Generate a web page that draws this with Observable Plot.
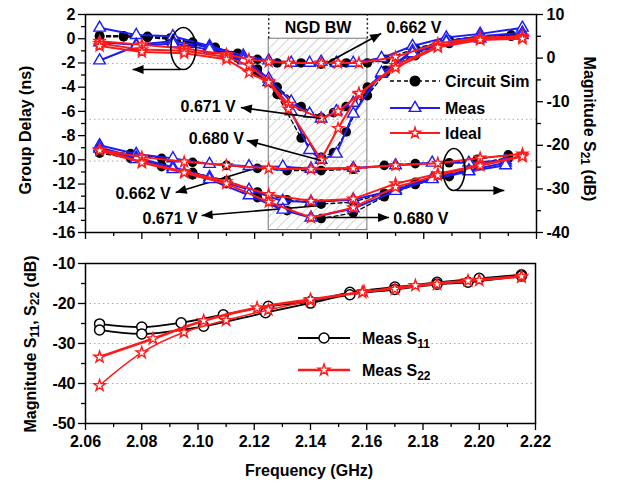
<!DOCTYPE html>
<html><head><meta charset="utf-8">
<script src="https://cdn.jsdelivr.net/npm/d3@7"></script>
<script src="https://cdn.jsdelivr.net/npm/@observablehq/plot@0.6"></script>
<style>
body{margin:0;background:#fff;}
#wrap{position:relative;width:622px;height:485px;overflow:hidden;}
#wrap svg{position:absolute;left:0;}
</style></head>
<body><div id="wrap"></div>
<script>
// ---------- DATA (top panel: group delay, ns) ----------
const fSimGD   = [2.065,2.0735,2.082,2.09,2.098,2.106,2.114,2.121,2.128,2.1365,2.1436,2.148,2.1525,2.16,2.1665,2.177,2.189,2.2,2.211];
const gdSim662 = [0.25,0.25,0.2,0.05,-0.3,-0.7,-1.2,-1.7,-2.0,-2.0,-2.1,-2.0,-2.0,-2.0,-1.7,-0.8,-0.1,0.2,0.3];
const gdSim671 = [0.2,0.2,0.15,0.0,-0.3,-0.8,-1.5,-2.5,-4.0,-5.6,-6.5,-6.1,-5.6,-4.7,-2.8,-1.2,-0.3,0.1,0.3];
const gdSim680 = [0.15,0.15,0.1,-0.05,-0.4,-0.9,-1.6,-2.8,-4.6,-8.2,-9.8,-9.4,-7.7,-4.0,-2.6,-1.4,-0.4,0.0,0.2];

const fMeasGD   = [2.065,2.078,2.091,2.104,2.116,2.125,2.133,2.1395,2.1436,2.149,2.155,2.165,2.176,2.188,2.2,2.215];
const gdMeas662 = [0.9,0.3,0.2,-0.6,-1.4,-1.8,-2.0,-2.0,-1.9,-2.0,-2.0,-1.6,-0.6,0.1,0.4,0.9];
const gdMeas671 = [-0.3,-0.5,-0.2,-0.7,-1.6,-3.3,-5.2,-6.2,-6.6,-6.0,-5.3,-2.9,-1.0,-0.2,0.2,0.5];
const gdMeas680 = [-1.8,-0.6,-0.4,-0.9,-1.8,-3.6,-6.0,-9.2,-10.0,-9.5,-6.2,-2.8,-1.2,-0.3,0.0,0.3];

const fIdealGD   = [2.065,2.08,2.095,2.11,2.118,2.125,2.132,2.1436,2.1496,2.157,2.17,2.185,2.2,2.215];
const gdIdeal662 = [-0.2,-0.5,-0.8,-1.3,-1.7,-1.9,-2.0,-2.0,-2.0,-2.0,-1.5,-0.4,0.1,0.2];
const gdIdeal671 = [-0.4,-0.9,-1.0,-1.5,-2.2,-3.5,-5.4,-6.6,-6.0,-4.6,-2.2,-0.6,0.0,0.1];
const gdIdeal680 = [-0.6,-1.1,-1.2,-1.7,-2.8,-3.6,-5.8,-10.0,-7.4,-4.5,-2.4,-0.7,-0.1,0.0];

// ---------- DATA (top panel: |S21|, dB) ----------
const fSimS21   = [2.065,2.076,2.087,2.098,2.11,2.121,2.1315,2.1436,2.155,2.166,2.177,2.189,2.199,2.21];
const s21Sim662 = [-21.5,-21.9,-23.0,-23.9,-24.6,-25.3,-25.8,-25.8,-25.5,-24.6,-24.2,-24.0,-23.2,-22.2];
const s21Sim671 = [-21.5,-22.5,-24.6,-26.2,-28.1,-30.7,-32.5,-33.5,-33.0,-31.0,-28.5,-27.0,-24.2,-22.8];
const s21Sim680 = [-21.8,-23.0,-24.9,-26.8,-28.8,-32.0,-35.0,-36.8,-35.5,-31.8,-29.0,-27.2,-24.5,-23.0];

const fMeasS21   = [2.065,2.078,2.091,2.104,2.118,2.13,2.14,2.155,2.17,2.183,2.196,2.209];
const s21Meas662 = [-20.0,-22.0,-23.0,-24.3,-24.8,-24.9,-25.4,-25.2,-24.6,-24.0,-24.0,-23.5];
const s21Meas671 = [-20.5,-22.8,-25.0,-27.3,-30.2,-32.8,-33.0,-32.5,-30.2,-27.6,-25.8,-24.0];
const s21Meas680 = [-20.8,-23.2,-25.5,-27.8,-31.5,-34.8,-36.6,-34.5,-30.5,-27.8,-26.0,-24.6];

const fIdealS21   = [2.065,2.08,2.095,2.11,2.125,2.14,2.155,2.17,2.185,2.2,2.215];
const s21Ideal662 = [-21.0,-22.7,-23.8,-24.6,-25.3,-25.5,-25.3,-24.6,-24.1,-22.9,-22.0];
const s21Ideal671 = [-21.0,-23.8,-26.0,-28.3,-31.3,-32.8,-32.3,-28.8,-26.5,-24.5,-22.4];
const s21Ideal680 = [-21.2,-24.0,-26.3,-28.8,-33.0,-36.6,-34.3,-29.6,-26.9,-24.7,-22.6];

// ---------- DATA (bottom panel: |S11|, |S22|, dB) ----------
const fS11a = [2.065,2.08,2.094,2.109,2.125,2.14,2.154,2.17,2.185,2.2,2.215];
const s11a  = [-25.1,-25.9,-24.8,-22.8,-20.7,-19.5,-17.2,-15.9,-14.7,-13.7,-12.8];
const fS11b = [2.065,2.08,2.102,2.124,2.14,2.154,2.17,2.185,2.196,2.215];
const s11b  = [-26.6,-27.6,-25.7,-22.3,-19.9,-17.8,-16.5,-15.2,-14.7,-13.1];
const fS22a = [2.065,2.084,2.102,2.121,2.14,2.1584,2.1773,2.196,2.215];
const s22a  = [-33.4,-28.8,-24.3,-21.1,-19.0,-17.2,-15.5,-14.3,-13.2];
const fS22b = [2.065,2.08,2.095,2.11,2.125,2.14,2.159,2.17,2.185,2.2,2.215];
const s22b  = [-40.5,-32.3,-27.2,-24.2,-21.6,-19.3,-17.0,-16.4,-15.2,-14.2,-13.4];

// ---------- ticks / reference lines ----------
const xMajor = [2.06,2.08,2.10,2.12,2.14,2.16,2.18,2.20,2.22];
const xMinor = [2.07,2.09,2.11,2.13,2.15,2.17,2.19,2.21];
const gdTicks = [-16,-14,-12,-10,-8,-6,-4,-2,0,2];
const gdMinor = [-15,-13,-11,-9,-7,-5,-3,-1,1];
const s21Ticks = [-40,-30,-20,-10,0,10];
const s21Minor = [-35,-25,-15,-5,5];
const sTicks = [-50,-40,-30,-20,-10];
const sMinor = [-45,-35,-25,-15];
const gridGD = [-2.05,-6.65,-10.1];
const gridS = [-20,-30,-40];
const ngdBand = [{f1:2.125, f2:2.16, g1:-15.8, g2:0}];
const ngdEdges = [2.125, 2.16];

// ---------- annotations ----------
const arrowsGD = [
  {x1:2.146, y1:-1.96, x2:2.1649, y2:0.43},
  {x1:2.1436, y1:-6.59, x2:2.1151, y2:-5.68},
  {x1:2.1436, y1:-10.06, x2:2.1172, y2:-8.4},
  {x1:2.1212, y1:-10.63, x2:2.092, y2:-12.7},
  {x1:2.1436, y1:-13.77, x2:2.1012, y2:-14.6},
  {x1:2.1436, y1:-14.76, x2:2.1677, y2:-14.76},
  {x1:2.0938, y1:-2.54, x2:2.0767, y2:-2.54}
];
const labelsGD = [
  {f:2.1425, g:0.93, t:"NGD BW", a:"middle"},
  {f:2.1667, g:0.93, t:"0.662 V", a:"start"},
  {f:2.1133, g:-5.6, t:"0.671 V", a:"end"},
  {f:2.1162, g:-8.24, t:"0.680 V", a:"end"},
  {f:2.0902, g:-12.78, t:"0.662 V", a:"end"},
  {f:2.0998, g:-14.85, t:"0.671 V", a:"end"},
  {f:2.1692, g:-14.85, t:"0.680 V", a:"start"}
];
const ellipseGD = [{f:2.0947, g:-0.81}];
const ellipseS21 = [{f:2.1907, s:-25.55}];
const arrowsS21 = [{x1:2.1916, y1:-30.37, x2:2.2086, y2:-30.37}];

// ---------- helpers ----------
const BLUE = "#1c1cf5", RED = "#ff1a1a";
const FONT = "'Liberation Sans', Arial, sans-serif";
const rows = (fs, vs, key) => fs.map((f, i) => ({f, v: vs[i], key}));
const gdSim = [...rows(fSimGD, gdSim662, "a"), ...rows(fSimGD, gdSim671, "b"), ...rows(fSimGD, gdSim680, "c")];
const gdMeas = [...rows(fMeasGD, gdMeas662, "a"), ...rows(fMeasGD, gdMeas671, "b"), ...rows(fMeasGD, gdMeas680, "c")];
const gdIdeal = [...rows(fIdealGD, gdIdeal662, "a"), ...rows(fIdealGD, gdIdeal671, "b"), ...rows(fIdealGD, gdIdeal680, "c")];
const sSim = [...rows(fSimS21, s21Sim662, "a"), ...rows(fSimS21, s21Sim671, "b"), ...rows(fSimS21, s21Sim680, "c")];
const sMeas = [...rows(fMeasS21, s21Meas662, "a"), ...rows(fMeasS21, s21Meas671, "b"), ...rows(fMeasS21, s21Meas680, "c")];
const sIdeal = [...rows(fIdealS21, s21Ideal662, "a"), ...rows(fIdealS21, s21Ideal671, "b"), ...rows(fIdealS21, s21Ideal680, "c")];

function ellipseSymbol(rx, ry) {
  const k = 0.5522848;
  return {draw(ctx) {
    ctx.moveTo(rx, 0);
    ctx.bezierCurveTo(rx, ry*k, rx*k, ry, 0, ry);
    ctx.bezierCurveTo(-rx*k, ry, -rx, ry*k, -rx, 0);
    ctx.bezierCurveTo(-rx, -ry*k, -rx*k, -ry, 0, -ry);
    ctx.bezierCurveTo(rx*k, -ry, rx, -ry*k, rx, 0);
    ctx.closePath();
  }};
}
// filled arrow head, tip at the origin, pointing up before rotation
const headSymbol = {draw(ctx) { ctx.moveTo(0, 0); ctx.lineTo(-4.5, 11); ctx.lineTo(4.5, 11); ctx.closePath(); }};

const style = {fontFamily: FONT, fontSize: "16px", fontWeight: "bold", background: "transparent", color: "#000", overflow: "visible"};
const xScale = Plot.scale({x: {domain: [2.06, 2.22], range: [85, 536]}});
const yGD = Plot.scale({y: {domain: [-16, 2], range: [232, 14]}});
const yS21 = Plot.scale({y: {domain: [-40, 10], range: [232, 14]}});
const angle = (ys) => d => Math.atan2(ys.apply(d.y2) - ys.apply(d.y1), xScale.apply(d.x2) - xScale.apply(d.x1)) * 180 / Math.PI + 90;

function arrowMarks(data, ys) {
  return [
    Plot.link(data, {x1:"x1", y1:"y1", x2:"x2", y2:"y2", stroke:"#000", strokeWidth:1.6}),
    Plot.dot(data, {x:"x2", y:"y2", symbol: headSymbol, r:5, fill:"#000", stroke:"none", rotate: angle(ys)})
  ];
}

function seriesMarks(sim, meas, ideal) {
  return [
    Plot.line(sim, {x:"f", y:"v", z:"key", stroke:"#000", strokeWidth:1.3, strokeDasharray:"4,3"}),
    Plot.dot(sim, {x:"f", y:"v", fill:"#000", r:4.8}),
    Plot.line(meas, {x:"f", y:"v", z:"key", stroke:BLUE, strokeWidth:2}),
    Plot.dot(meas, {x:"f", y:"v", symbol:"triangle", r:4.3, stroke:BLUE, fill:"white", strokeWidth:1.4}),
    Plot.line(ideal, {x:"f", y:"v", z:"key", stroke:RED, strokeWidth:2}),
    Plot.dot(ideal, {x:"f", y:"v", symbol:"star", r:3.4, stroke:RED, fill:"white", strokeWidth:1.4})
  ];
}

const wrap = document.getElementById("wrap");

// ---------- top panel, group delay (left axis) ----------
const topGD = Plot.plot({
  width: 622, height: 245, marginLeft: 85, marginRight: 86, marginTop: 14, marginBottom: 13,
  style,
  x: {domain: [2.06, 2.22]},
  y: {domain: [-16, 2]},
  marks: [
    Plot.rect(ngdBand, {x1:"f1", x2:"f2", y1:"g1", y2:"g2", fill:"url(#ngdHatch)", stroke:"#777", strokeWidth:1}),
    Plot.ruleY(gridGD, {stroke:"#aaa", strokeDasharray:"1.5,3"}),
    Plot.ruleX(ngdEdges, {y1: 0, y2: 2, stroke:"#222", strokeWidth:1.5, strokeDasharray:"2,2.5"}),
    ...seriesMarks(gdSim, gdMeas, gdIdeal),
    Plot.dot(ellipseGD, {x:"f", y:"g", symbol: ellipseSymbol(12.5, 21), stroke:"#000", fill:"none", strokeWidth:1.6}),
    ...arrowMarks(arrowsGD, yGD),
    Plot.text(labelsGD, {filter: d => d.a === "middle", x:"f", y:"g", text:"t", textAnchor:"middle", fontSize:16, fontWeight:"bold"}),
    Plot.text(labelsGD, {filter: d => d.a === "start", x:"f", y:"g", text:"t", textAnchor:"start", fontSize:16, fontWeight:"bold"}),
    Plot.text(labelsGD, {filter: d => d.a === "end", x:"f", y:"g", text:"t", textAnchor:"end", fontSize:16, fontWeight:"bold"}),
    Plot.axisY(gdTicks, {anchor:"left", tickSize:7, tickPadding:3, strokeWidth:1.3, tickFormat: d => String(d), label:null}),
    Plot.axisY(gdMinor, {anchor:"left", tickSize:4, strokeWidth:1.3, tickFormat: () => "", label:null}),
    Plot.axisX(xMajor, {anchor:"bottom", tickSize:7, strokeWidth:1.3, tickFormat: () => "", label:null}),
    Plot.axisX(xMinor, {anchor:"bottom", tickSize:4, strokeWidth:1.3, tickFormat: () => "", label:null}),
    Plot.frame({stroke:"#000", strokeWidth:1.5})
  ]
});
const defs = d3.select(topGD).insert("defs", ":first-child");
defs.append("pattern").attr("id", "ngdHatch").attr("patternUnits", "userSpaceOnUse")
  .attr("width", 7).attr("height", 7).attr("patternTransform", "rotate(45)")
  .append("line").attr("x1", 0).attr("y1", 0).attr("x2", 0).attr("y2", 7)
  .attr("stroke", "#a8a8a8").attr("stroke-width", 1);
topGD.style.top = "0px";
wrap.appendChild(topGD);

// ---------- top panel, |S21| (right axis) ----------
const topS21 = Plot.plot({
  width: 622, height: 245, marginLeft: 85, marginRight: 86, marginTop: 14, marginBottom: 13,
  style,
  x: {domain: [2.06, 2.22], axis: null},
  y: {domain: [-40, 10]},
  marks: [
    ...seriesMarks(sSim, sMeas, sIdeal),
    Plot.dot(ellipseS21, {x:"f", y:"s", symbol: ellipseSymbol(11, 21), stroke:"#000", fill:"none", strokeWidth:1.6}),
    ...arrowMarks(arrowsS21, yS21),
    Plot.axisY(s21Ticks, {anchor:"right", tickSize:6, tickPadding:4, strokeWidth:1.3, tickFormat: d => String(d), label:null}),
    Plot.axisY(s21Minor, {anchor:"right", tickSize:4, strokeWidth:1.3, tickFormat: () => "", label:null})
  ]
});
topS21.style.top = "0px";
wrap.appendChild(topS21);

// ---------- bottom panel ----------
const bottom = Plot.plot({
  width: 622, height: 240, marginLeft: 85, marginRight: 87, marginTop: 18, marginBottom: 62,
  style,
  x: {domain: [2.06, 2.22]},
  y: {domain: [-50, -10]},
  marks: [
    Plot.ruleY(gridS, {stroke:"#aaa", strokeDasharray:"1.5,3"}),
    Plot.line(rows(fS11a, s11a, "a"), {x:"f", y:"v", stroke:"#000", strokeWidth:1.8, curve:"catmull-rom"}),
    Plot.line(rows(fS11b, s11b, "b"), {x:"f", y:"v", stroke:"#000", strokeWidth:1.8, curve:"catmull-rom"}),
    Plot.dot(rows(fS11a, s11a, "a"), {x:"f", y:"v", r:5, stroke:"#000", fill:"white", strokeWidth:1.5}),
    Plot.dot(rows(fS11b, s11b, "b"), {x:"f", y:"v", r:5, stroke:"#000", fill:"white", strokeWidth:1.5}),
    Plot.line(rows(fS22b, s22b, "b"), {x:"f", y:"v", stroke:RED, strokeWidth:1.5, curve:"catmull-rom"}),
    Plot.line(rows(fS22a, s22a, "a"), {x:"f", y:"v", stroke:RED, strokeWidth:2.6, curve:"catmull-rom"}),
    Plot.dot(rows(fS22b, s22b, "b"), {x:"f", y:"v", symbol:"star", r:3.6, stroke:RED, fill:"white", strokeWidth:1.4}),
    Plot.dot(rows(fS22a, s22a, "a"), {x:"f", y:"v", symbol:"star", r:3.6, stroke:RED, fill:"white", strokeWidth:1.4}),
    Plot.axisY(sTicks, {anchor:"left", tickSize:7, tickPadding:3, strokeWidth:1.3, tickFormat: d => String(d), label:null}),
    Plot.axisY(sMinor, {anchor:"left", tickSize:4, strokeWidth:1.3, tickFormat: () => "", label:null}),
    Plot.axisX(xMajor, {anchor:"bottom", tickSize:7, tickPadding:5, strokeWidth:1.3, tickFormat: d => d.toFixed(2), label:null}),
    Plot.axisX(xMinor, {anchor:"bottom", tickSize:4, strokeWidth:1.3, tickFormat: () => "", label:null}),
    Plot.frame({stroke:"#000", strokeWidth:1.5})
  ]
});
bottom.style.top = "245px";
wrap.appendChild(bottom);

// ---------- titles and legends ----------
const ov = d3.create("svg").attr("width", 622).attr("height", 485)
  .style("top", "0px").style("font-family", FONT).style("font-weight", "bold").style("font-size", "16px");

function title(x, y, rot, parts) {
  const t = ov.append("text").attr("transform", `translate(${x},${y}) rotate(${rot})`)
    .attr("text-anchor", "middle").attr("dominant-baseline", "central");
  let shifted = false;
  for (const [s, sub] of parts) {
    if (sub) { t.append("tspan").attr("dy", 5).attr("font-size", 12).text(s); shifted = true; }
    else { t.append("tspan").attr("dy", shifted ? -5 : null).text(s); shifted = false; }
  }
  return t;
}
title(25, 130, -90, [["Group Delay (ns)"]]);
title(590, 129, 90, [["Magnitude S"], ["21", true], [" (dB)"]]);
title(30, 344, -90, [["Magnitude S"], ["11", true], [", S"], ["22", true], [" (dB)"]]);
title(309, 470, 0, [["Frequency (GHz)"]]);

const sym = (type, size) => d3.symbol(type, size)();
function legendItem(x1, x2, y, stroke, width, dash, symPath, symFill, textX, parts) {
  ov.append("line").attr("x1", x1).attr("x2", x2).attr("y1", y).attr("y2", y)
    .attr("stroke", stroke).attr("stroke-width", width).attr("stroke-dasharray", dash || null);
  ov.append("path").attr("d", symPath).attr("transform", `translate(${(x1 + x2) / 2},${y})`)
    .attr("fill", symFill).attr("stroke", stroke).attr("stroke-width", 1.4);
  const t = ov.append("text").attr("x", textX).attr("y", y).attr("dominant-baseline", "central");
  for (const [s, sub] of parts) {
    if (sub) t.append("tspan").attr("dy", 6).attr("font-size", 12).text(s);
    else t.append("tspan").text(s);
  }
}
legendItem(390, 440, 81, "#000", 1.5, "4,3", sym(d3.symbolCircle, 4.8 * 4.8 * Math.PI), "#000", 445, [["Circuit Sim"]]);
legendItem(390, 440, 108, BLUE, 2, null, sym(d3.symbolTriangle, 4.3 * 4.3 * Math.PI), "white", 445, [["Meas"]]);
legendItem(390, 440, 133, RED, 2, null, sym(d3.symbolStar, 3.4 * 3.4 * Math.PI), "white", 445, [["Ideal"]]);
legendItem(298, 350, 338, "#000", 1.8, null, sym(d3.symbolCircle, 25 * Math.PI), "white", 362, [["Meas S"], ["11", true]]);
legendItem(298, 350, 370, RED, 2.4, null, sym(d3.symbolStar, 3.6 * 3.6 * Math.PI), "white", 362, [["Meas S"], ["22", true]]);

wrap.appendChild(ov.node());
</script>
</body></html>
